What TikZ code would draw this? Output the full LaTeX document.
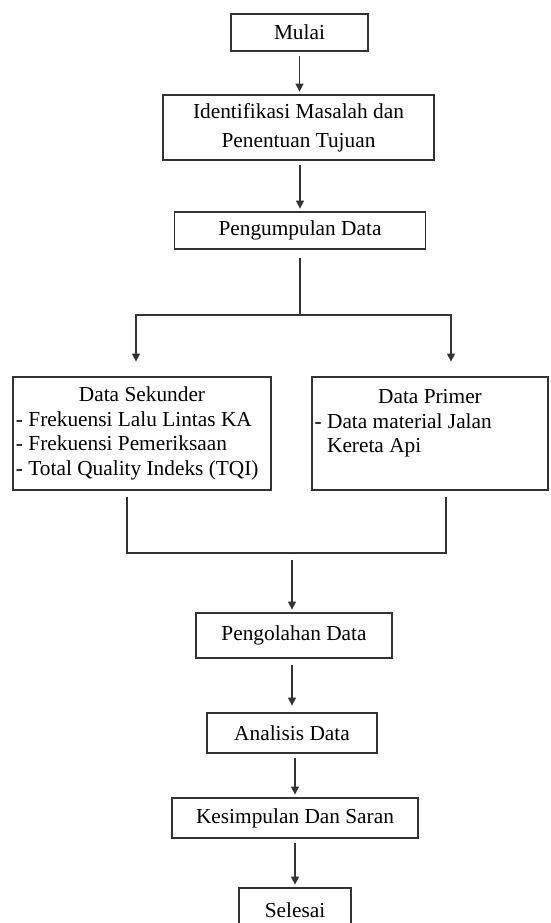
\documentclass[tikz,border=0pt]{standalone}
\usepackage{fontspec}
\setmainfont{Liberation Serif}
\usetikzlibrary{arrows.meta}

\tikzset{
  >={Triangle[length=6pt,width=6pt]},
  box/.style={draw=black!80, line width=1.1pt, inner sep=2pt, font=\fontsize{16}{18.4}\selectfont},
  link/.style={draw=black!80, line width=1.1pt},
  arr/.style={link, ->, shorten <=3pt, shorten >=2pt}
}

\begin{document}
\begin{tikzpicture}[x=0.75pt,y=-0.75pt]
    \useasboundingbox (0,0) rectangle (550,923);

    \node[box, minimum width=102.75pt, minimum height=27.75pt] (mulai) at (299.5,32.5) {Mulai};
    \node[box, align=center, minimum width=203.25pt, minimum height=48.75pt] (identifikasi) at (298.5,127.5) {Identifikasi Masalah dan\\[3pt] Penentuan Tujuan};
    \node[box, minimum width=188.25pt, minimum height=27.75pt] (pengumpulan) at (300,230.5) {Pengumpulan Data};

    \node[box, align=left, minimum width=193.5pt, minimum height=84.75pt] (sekunder) at (142,433.5) {\makebox[189pt]{Data Sekunder}\\- Frekuensi Lalu Lintas KA\\- Frekuensi Pemeriksaan\\- Total Quality Indeks (TQI)};
    \node[box, align=left, minimum width=177pt, minimum height=84.75pt] (primer) at (430,433.5) {\makebox[173pt]{Data Primer}\\- Data material Jalan\\\phantom{- }Kereta Api\\\mbox{}};

    \node[box, minimum width=147pt, minimum height=33.75pt] (pengolahan) at (294,635.5) {Pengolahan Data};
    \node[box, minimum width=127.5pt, minimum height=30pt] (analisis) at (292,733) {Analisis Data};
    \node[box, minimum width=184.5pt, minimum height=30pt] (kesimpulan) at (295,818) {Kesimpulan Dan Saran};
    \node[box, minimum width=84pt, minimum height=33.75pt] (selesai) at (295,910.5) {Selesai};

    \draw[arr] (mulai.south) -- (mulai.south |- identifikasi.north);
    \draw[arr] (identifikasi.south -| pengumpulan) -- (pengumpulan.north);

    \coordinate (split) at (300,315);
    \coordinate (splitL) at (136,315);
    \coordinate (splitR) at (451,315);
    \draw[link, shorten <=6pt] (split |- pengumpulan.south) -- (split);
    \draw[link, <->, shorten <=11pt, shorten >=11pt] (splitL |- sekunder.north) -- (splitL) -- (splitR) -- (splitR |- primer.north);

    \coordinate (joinL) at (127,553);
    \coordinate (joinR) at (446,553);
    \coordinate (join) at (292,553);
    \draw[link, shorten <=4.5pt, shorten >=4.5pt] (joinL |- sekunder.south) -- (joinL) -- (joinR) -- (joinR |- primer.south);
    \draw[arr, shorten <=5pt] (join) -- (join |- pengolahan.north);

    \draw[arr, shorten <=5pt, shorten >=5pt] (pengolahan.south -| analisis) -- (analisis.north);
    \draw[arr] (analisis.south -| kesimpulan) -- (kesimpulan.north);
    \draw[arr] (kesimpulan.south) -- (selesai.north);
\end{tikzpicture}
\end{document}
